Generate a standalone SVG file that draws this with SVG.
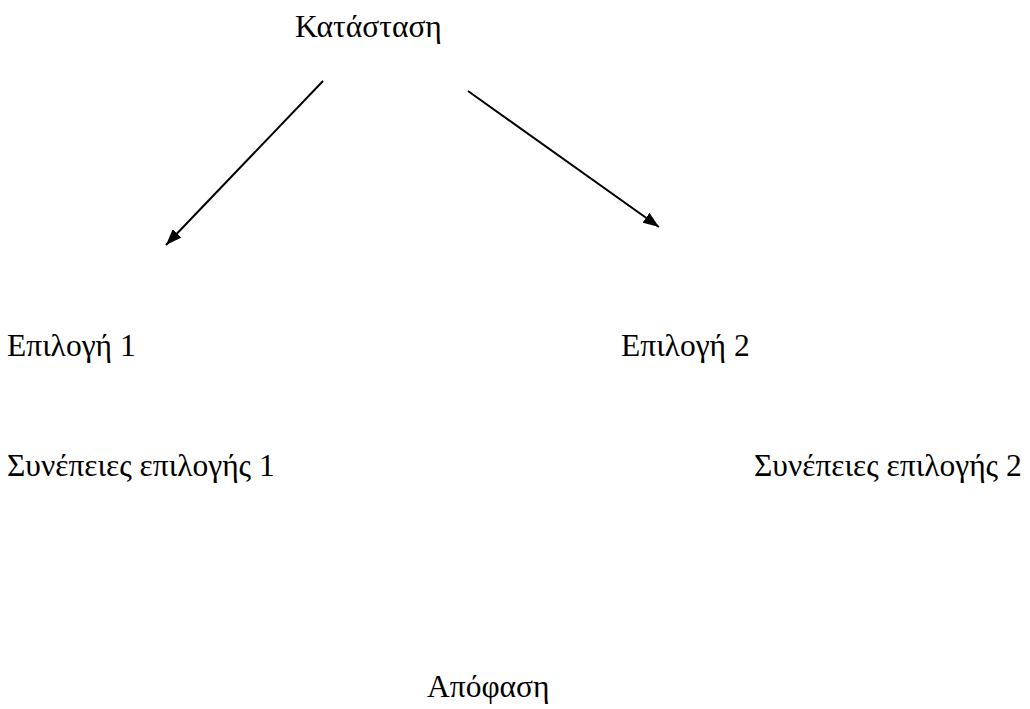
<svg xmlns="http://www.w3.org/2000/svg" width="1030" height="709" viewBox="0 0 1030 709">
<style>
text{font-family:"Liberation Serif","Times New Roman",serif;font-size:31.5px;fill:#000}
.c{stroke:#000;stroke-width:2;fill:none}
</style>
<defs>
<marker id="ah" viewBox="0 0 16 12" refX="16" refY="6" markerWidth="16" markerHeight="12" markerUnits="userSpaceOnUse" orient="auto">
<path d="M0,0 L16,6 L0,12 z" fill="#000"/>
</marker>
</defs>
<rect width="1030" height="709" fill="#fff"/>
<g id="connectors">
<line class="c" x1="323" y1="81" x2="166" y2="245" marker-end="url(#ah)"/>
<line class="c" x1="468" y1="91" x2="659" y2="227" marker-end="url(#ah)"/>
</g>
<g id="n-katastasi"><text x="295" y="37">Κατάσταση</text></g>
<g id="n-epilogi1"><text x="7" y="356">Επιλογή 1</text></g>
<g id="n-epilogi2"><text x="621" y="356">Επιλογή 2</text></g>
<g id="n-synepeies1"><text x="7" y="476">Συνέπειες επιλογής 1</text></g>
<g id="n-synepeies2"><text x="754" y="476">Συνέπειες επιλογής 2</text></g>
<g id="n-apofasi"><text x="427" y="697">Απόφαση</text></g>
</svg>
